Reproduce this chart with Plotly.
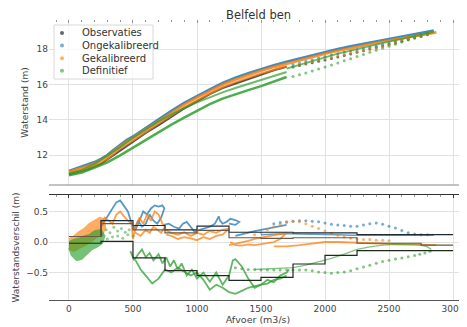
import plotly.graph_objects as go

# ------------------------------------------------------------------ data
series_names = ["Observaties", "Ongekalibreerd", "Gekalibreerd", "Definitief"]
series_colors = ["#333333", "#1f77b4", "#ff7f0e", "#2ca02c"]
legend_colors = ["rgba(51,51,51,0.75)", "rgba(31,119,180,0.6)", "rgba(255,127,14,0.6)",
                 "rgba(44,160,44,0.6)"]
step_colors = ["#1e2a36", "#6b5845", "#1c2b1c"]
chart_title = "Belfeld ben"

x_ticks = [0, 500, 1000, 1500, 2000, 2500, 3000]
x_tick_labels = ["0", "500", "1000", "1500", "2000", "2500", "3000"]
h_ticks = [12, 14, 16, 18]
h_tick_labels = ["12", "14", "16", "18"]
d_ticks = [-0.5, 0.0, 0.5]
d_tick_labels = ["\u22120.5", "0.0", "0.5"]

# ---- top panel: waterstand (m) vs afvoer (m3/s)
obs_line_q = [0, 50, 100, 150, 200, 250, 300, 350, 400, 450, 500, 600, 700, 800, 900,
              1000, 1100, 1200, 1300, 1400, 1500, 1600, 1700]
obs_line_h = [10.9, 11.0, 11.1, 11.2, 11.35, 11.5, 11.75, 12.0, 12.3, 12.55, 12.8, 13.25,
              13.7, 14.2, 14.65, 15.05, 15.45, 15.8, 16.05, 16.3, 16.55, 16.8, 17.0]
obs_dot_q = [1750, 1800, 1850, 1900, 1950, 2000, 2050, 2100, 2150, 2200, 2250, 2300, 2350,
             2400, 2450, 2500, 2550, 2600, 2650, 2700, 2750, 2800]
obs_dot_h = [16.99, 17.07, 17.15, 17.23, 17.31, 17.39, 17.47, 17.55, 17.64, 17.73, 17.82,
             17.91, 18.0, 18.09, 18.18, 18.27, 18.36, 18.45, 18.54, 18.63, 18.72, 18.82]

ong_line_q = [0, 50, 100, 150, 200, 250, 300, 350, 400, 450, 500, 600, 700, 800, 900, 1000,
              1100, 1200, 1300, 1400, 1500, 1600, 1700, 1800, 1900, 2000, 2100, 2200, 2300,
              2400, 2500, 2600, 2700, 2800, 2850]
ong_line_h = [11.1, 11.22, 11.32, 11.45, 11.6, 11.78, 12.0, 12.3, 12.6, 12.85, 13.05, 13.55,
              14.0, 14.5, 14.95, 15.35, 15.72, 16.08, 16.38, 16.63, 16.87, 17.08, 17.28, 17.47,
              17.66, 17.84, 18.0, 18.16, 18.3, 18.44, 18.57, 18.7, 18.83, 18.96, 19.05]
tail_q = [2800, 2750, 2700, 2650, 2600, 2550, 2500, 2450, 2400, 2350, 2300, 2250, 2200,
          2150, 2100, 2050, 2000, 1950, 1900, 1850, 1800, 1750]
ong_dot_h = [18.91, 18.83, 18.73, 18.64, 18.54, 18.45, 18.35, 18.26, 18.17, 18.1, 18.04,
             17.97, 17.9, 17.82, 17.74, 17.66, 17.58, 17.49, 17.4, 17.31, 17.22, 17.13]

gek_line_q = [0, 50, 100, 150, 200, 250, 300, 350, 400, 450, 500, 600, 700, 800, 900, 1000,
              1100, 1200, 1300, 1400, 1500, 1600, 1700, 1800, 1900, 2000, 2100, 2200, 2300,
              2400, 2500, 2600, 2700, 2800, 2870]
gek_line_h = [11.05, 11.15, 11.25, 11.38, 11.52, 11.7, 11.92, 12.22, 12.5, 12.75, 12.97,
              13.45, 13.92, 14.4, 14.85, 15.25, 15.62, 15.98, 16.28, 16.53, 16.77, 16.98,
              17.18, 17.37, 17.56, 17.74, 17.91, 18.07, 18.21, 18.35, 18.49, 18.62, 18.75,
              18.88, 18.95]
gek_fall_q = [1700, 1600, 1500, 1400, 1300, 1200, 1100, 1000, 900, 800, 700, 600, 500, 400,
              300, 200, 100, 0]
gek_fall_h = [17.03, 16.83, 16.62, 16.38, 16.13, 15.83, 15.47, 15.1, 14.7, 14.25, 13.77,
              13.3, 12.82, 12.35, 11.77, 11.4, 11.12, 10.95]
gek_dot_h = [18.85, 18.76, 18.65, 18.55, 18.45, 18.35, 18.25, 18.15, 18.06, 17.98, 17.92,
             17.85, 17.78, 17.7, 17.62, 17.54, 17.46, 17.38, 17.29, 17.2, 17.11, 17.03]

def_low_q = [0, 100, 200, 300, 400, 500, 600, 700, 800, 900, 1000, 1100, 1200, 1300, 1400,
             1500, 1600, 1700]
def_low_h = [10.85, 11.0, 11.28, 11.58, 11.98, 12.42, 12.88, 13.32, 13.72, 14.12, 14.52,
             14.88, 15.2, 15.45, 15.68, 15.9, 16.15, 16.42]
def_high_q = [1700, 1600, 1500, 1400, 1300, 1200, 1100, 1000, 900, 800, 700, 600, 500, 400,
              300, 200, 100, 0]
def_high_h = [16.7, 16.48, 16.25, 16.02, 15.8, 15.55, 15.28, 14.98, 14.65, 14.3, 13.9, 13.45,
              12.98, 12.45, 11.95, 11.5, 11.15, 10.95]
def_rise_q = [1700, 1800, 1900, 2000, 2100, 2200, 2300, 2400, 2500, 2600, 2700, 2800, 2850]
def_rise_h = [16.9, 17.12, 17.34, 17.55, 17.74, 17.92, 18.1, 18.27, 18.43, 18.58, 18.73,
              18.88, 18.97]
def_dot_h = [18.88, 18.76, 18.64, 18.52, 18.4, 18.28, 18.16, 18.05, 17.94, 17.82, 17.7,
             17.58, 17.46, 17.34, 17.22, 17.1, 16.98, 16.87, 16.76, 16.65, 16.55, 16.45]

# ---- bottom panel: waterstandsverschil (m) vs afvoer (m3/s)
ong_d1_q = [250, 280, 310, 340, 370, 400, 430, 460, 490, 520, 550, 580, 610, 640, 670, 700,
            730, 745, 720, 690, 660, 630, 600, 570, 540, 510]
ong_d1_d = [0.25, 0.35, 0.45, 0.55, 0.65, 0.68, 0.6, 0.5, 0.3, 0.2, 0.35, 0.5, 0.45, 0.55,
            0.6, 0.58, 0.6, 0.55, 0.4, 0.3, 0.35, 0.45, 0.3, 0.25, 0.35, 0.2]
ong_d2_q = [740, 780, 820, 860, 890, 920, 950, 980, 1020, 1060, 1100, 1140, 1170, 1180, 1200,
            1230, 1260, 1300, 1330, 1300, 1250]
ong_d2_d = [0.28, 0.3, 0.25, 0.22, 0.3, 0.33, 0.25, 0.17, 0.2, 0.22, 0.25, 0.3, 0.42, 0.35,
            0.3, 0.33, 0.38, 0.36, 0.33, 0.28, 0.3]
ong_d3_q = [1300, 1350, 1400, 1450, 1500, 1550, 1600, 1650, 1700]
ong_d3_d = [0.1, 0.13, 0.15, 0.18, 0.2, 0.22, 0.24, 0.26, 0.28]
ong_d4_q = [1500, 1600, 1700, 1800, 1900, 2000, 2100, 2200, 2300, 2400, 2500, 2600, 2700,
            2800, 2850]
ong_d4_d = [0.12, 0.13, 0.14, 0.13, 0.13, 0.12, 0.12, 0.11, 0.11, 0.11, 0.1, 0.1, 0.1, 0.1,
            0.11]
ong_ddot_q = [1600, 1650, 1700, 1750, 1800, 1850, 1900, 1950, 2000, 2050, 2100, 2150, 2200,
              2250, 2300, 2350, 2400, 2450, 2500, 2550, 2600, 2650, 2700, 2750, 2800]
ong_ddot_d = [0.3, 0.32, 0.33, 0.34, 0.35, 0.35, 0.34, 0.33, 0.31, 0.29, 0.28, 0.27, 0.26,
              0.26, 0.28, 0.3, 0.31, 0.29, 0.26, 0.23, 0.19, 0.15, 0.13, 0.12, 0.12]

# outline of the dense low-flow point cloud (Gekalibreerd)
gek_cloud_q = [0, 40, 80, 120, 160, 200, 240, 270, 285, 270, 230, 180, 130, 80, 40, 0]
gek_cloud_d = [0.05, 0.1, 0.17, 0.22, 0.3, 0.35, 0.4, 0.38, 0.25, 0.15, 0.1, 0.02, -0.05,
               -0.1, -0.15, -0.12]
gek_d2_q = [250, 280, 310, 340, 370, 400, 430, 460, 490, 500, 520, 550, 580, 610, 640, 670,
            700, 730, 750, 720, 690, 660, 630, 600, 560, 520, 500]
gek_d2_d = [0.3, 0.4, 0.35, 0.3, 0.45, 0.5, 0.42, 0.35, 0.3, 0.05, 0.25, 0.4, 0.3, 0.45,
            0.35, 0.5, 0.45, 0.3, 0.25, 0.15, 0.2, 0.25, 0.15, 0.2, 0.1, 0.15, 0.25]
gek_d3_q = [750, 800, 850, 900, 950, 1000, 1050, 1100, 1150, 1200, 1250, 1200, 1150, 1100,
            1050, 1000, 950, 900, 850, 800, 760]
gek_d3_d = [0.2, 0.15, 0.12, 0.16, 0.1, 0.15, 0.12, 0.18, 0.15, 0.2, 0.22, 0.12, 0.1, 0.05,
            0.08, 0.03, 0.06, 0.08, 0.05, 0.1, 0.12]
gek_d4_q = [1250, 1300, 1350, 1400, 1450, 1500, 1550, 1600, 1650, 1700, 1650, 1600, 1550,
            1500, 1450, 1400, 1350, 1300, 1260]
gek_d4_d = [-0.05, -0.03, 0.0, 0.02, 0.05, 0.07, 0.1, 0.12, 0.14, 0.15, 0.05, 0.0, -0.02,
            -0.03, -0.05, -0.04, -0.06, -0.05, 0.0]
gek_d5_q = [1600, 1700, 1800, 1900, 2000, 2100, 2200, 2300, 2400, 2500, 2600, 2700, 2800,
            2870]
gek_d5_d = [-0.07, -0.07, -0.05, -0.02, 0.0, 0.0, -0.01, -0.02, -0.03, -0.03, -0.04, -0.04,
            -0.04, -0.05]
gek_ddot_q = [1450, 1500, 1550, 1600, 1650, 1700, 1750, 1800, 1850, 1900, 1950, 2000, 2050,
              2100, 2150, 2200, 2250, 2300, 2350, 2400, 2450, 2500]
gek_ddot_d = [0.12, 0.15, 0.2, 0.25, 0.29, 0.32, 0.34, 0.33, 0.3, 0.26, 0.22, 0.18, 0.14,
              0.11, 0.08, 0.06, 0.05, 0.04, 0.04, 0.03, 0.03, 0.02]

# outline of the dense low-flow point cloud (Definitief)
def_cloud_q = [0, 40, 80, 120, 160, 200, 250, 280, 260, 220, 180, 140, 100, 60, 20, 0]
def_cloud_d = [0.0, 0.04, 0.06, 0.1, 0.12, 0.18, 0.2, 0.1, -0.02, -0.08, -0.12, -0.2, -0.28,
               -0.3, -0.22, -0.1]
def_sparse_q = [260, 290, 320, 350, 380, 410, 440, 470, 300, 340, 380, 420, 460, 500]
def_sparse_d = [0.12, 0.2, 0.15, 0.24, 0.18, 0.22, 0.16, 0.2, 0.05, 0.08, 0.1, 0.06, 0.12,
                0.1]
def_d2_q = [480, 510, 540, 570, 600, 630, 660, 700, 730, 760, 790, 820, 850, 880, 920, 960,
            1000, 1050, 1100, 1150, 1200, 1250, 1280, 1300, 1350, 1400, 1450, 1500, 1550,
            1600, 1650, 1700, 1720]
def_d2_d = [-0.15, -0.3, -0.2, -0.12, -0.25, -0.18, -0.3, -0.2, -0.35, -0.25, -0.4, -0.3,
            -0.45, -0.35, -0.55, -0.45, -0.6, -0.5, -0.65, -0.5, -0.7, -0.55, -0.3, -0.28,
            -0.4, -0.6, -0.75, -0.7, -0.62, -0.66, -0.55, -0.5, -0.45]
def_d3_q = [1700, 1650, 1600, 1550, 1500, 1450, 1400, 1350, 1300, 1250, 1200, 1150, 1100,
            1050, 1000, 950, 900, 850, 800, 750, 700, 650, 600, 560, 520]
def_d3_d = [-0.55, -0.6, -0.62, -0.68, -0.7, -0.72, -0.75, -0.8, -0.85, -0.82, -0.75, -0.7,
            -0.78, -0.62, -0.5, -0.55, -0.48, -0.42, -0.5, -0.45, -0.6, -0.68, -0.55, -0.45,
            -0.3]
def_d4_q = [1450, 1550, 1650, 1750, 1850, 1950, 2050, 2150, 2250, 2350, 2450, 2550, 2650,
            2750, 2800, 2830]
def_d4_d = [-0.45, -0.44, -0.43, -0.42, -0.38, -0.33, -0.27, -0.2, -0.12, -0.08, -0.05,
            -0.04, -0.04, -0.05, -0.08, -0.12]
def_ddot_q = [2820, 2780, 2740, 2700, 2650, 2600, 2550, 2500, 2450, 2400, 2350, 2300, 2250,
              2200, 2150, 2100, 2050, 2000, 1950, 1900, 1850, 1800, 1750, 1700, 1650, 1600,
              1550, 1500, 1450, 1400, 1350, 1300]
def_ddot_d = [-0.15, -0.18, -0.2, -0.22, -0.24, -0.26, -0.28, -0.3, -0.32, -0.35, -0.38,
              -0.41, -0.44, -0.47, -0.49, -0.5, -0.51, -0.5, -0.49, -0.47, -0.46, -0.46,
              -0.46, -0.46, -0.46, -0.46, -0.46, -0.46, -0.45, -0.45, -0.44, -0.42]

# binned mean differences (steps of 250 m3/s)
step_edges = [0, 250, 500, 750, 1000, 1250, 1500, 1750, 2000, 2250, 2500, 2750, 3000]
ong_step = [0.09, 0.35, 0.27, 0.20, 0.26, 0.16, 0.16, 0.15, 0.15, 0.12, 0.12, 0.12]
gek_step = [0.09, 0.30, 0.20, 0.15, 0.19, 0.07, 0.06, 0.07, 0.07, -0.02, -0.02, -0.05]
def_step = [-0.02, 0.01, -0.26, -0.47, -0.55, -0.63, -0.58, -0.36, -0.22, -0.14, -0.14, -0.14]

# ------------------------------------------------------------------ figure geometry
FONT = "DejaVu Sans"
OFF = 8                      # page body margin of the html page
WIN_W, WIN_H = 467, 327
W, H = WIN_W - OFF, WIN_H - OFF
PLOT_L, PLOT_R, PLOT_T, PLOT_B = 49, 467, 20, 300      # window pixels
ML, MR, MT, MB = PLOT_L - OFF, WIN_W - PLOT_R, PLOT_T - OFF, WIN_H - PLOT_B
PW, PH = W - ML - MR, H - MT - MB

fig = go.Figure()


def add_line(x, y, color, xa, ya, width=2.5, opacity=0.85):
    fig.add_trace(go.Scatter(x=x, y=y, mode="lines", xaxis=xa, yaxis=ya,
                             line=dict(color=color, width=width), opacity=opacity,
                             showlegend=False, hoverinfo="skip"))


def add_dots(x, y, color, xa, ya, size=3, opacity=0.6):
    fig.add_trace(go.Scatter(x=x, y=y, mode="markers", xaxis=xa, yaxis=ya,
                             marker=dict(color=color, size=size, line=dict(width=0)),
                             opacity=opacity, showlegend=False, hoverinfo="skip"))


def add_cloud(x, y, color, xa, ya, opacity=0.65):
    fig.add_trace(go.Scatter(x=x, y=y, mode="lines", fill="toself", fillcolor=color,
                             xaxis=xa, yaxis=ya, line=dict(color=color, width=1.5),
                             opacity=opacity, showlegend=False, hoverinfo="skip"))


c_obs, c_ong, c_gek, c_def = series_colors

# top panel
add_line(obs_line_q, obs_line_h, c_obs, "x", "y", width=2.2)
add_dots(obs_dot_q, obs_dot_h, c_obs, "x", "y", opacity=0.7)
add_line(ong_line_q, ong_line_h, c_ong, "x", "y", width=2.6)
add_dots(tail_q, ong_dot_h, c_ong, "x", "y")
add_line(gek_line_q, gek_line_h, c_gek, "x", "y", width=2.6)
add_line(gek_fall_q, gek_fall_h, c_gek, "x", "y", width=2.0, opacity=0.7)
add_dots(tail_q, gek_dot_h, c_gek, "x", "y")
add_line(def_low_q, def_low_h, c_def, "x", "y", width=2.4)
add_line(def_high_q, def_high_h, c_def, "x", "y", width=2.0, opacity=0.7)
add_line(def_rise_q, def_rise_h, c_def, "x", "y", width=1.8, opacity=0.7)
add_dots(tail_q, def_dot_h, c_def, "x", "y")

# bottom panel
for q, d in [(ong_d1_q, ong_d1_d), (ong_d2_q, ong_d2_d), (ong_d3_q, ong_d3_d)]:
    add_line(q, d, c_ong, "x2", "y2", width=1.8, opacity=0.75)
add_line(ong_d4_q, ong_d4_d, c_ong, "x2", "y2", width=1.6, opacity=0.7)
add_dots(ong_ddot_q, ong_ddot_d, c_ong, "x2", "y2")
add_cloud(gek_cloud_q, gek_cloud_d, c_gek, "x2", "y2")
for q, d in [(gek_d2_q, gek_d2_d), (gek_d3_q, gek_d3_d),
             (gek_d4_q, gek_d4_d), (gek_d5_q, gek_d5_d)]:
    add_line(q, d, c_gek, "x2", "y2", width=1.8, opacity=0.75)
add_dots(gek_ddot_q, gek_ddot_d, c_gek, "x2", "y2")
add_cloud(def_cloud_q, def_cloud_d, c_def, "x2", "y2", opacity=0.65)
add_dots(def_sparse_q, def_sparse_d, c_def, "x2", "y2", opacity=0.5)
for q, d in [(def_d2_q, def_d2_d), (def_d3_q, def_d3_d)]:
    add_line(q, d, c_def, "x2", "y2", width=1.8, opacity=0.75)
add_line(def_d4_q, def_d4_d, c_def, "x2", "y2", width=1.3, opacity=0.6)
add_dots(def_ddot_q, def_ddot_d, c_def, "x2", "y2")

for vals, col in [(ong_step, step_colors[0]), (gek_step, step_colors[1]),
                  (def_step, step_colors[2])]:
    fig.add_trace(go.Scatter(x=step_edges, y=vals + vals[-1:], mode="lines",
                             line=dict(color=col, width=1.2, shape="hv"),
                             xaxis="x3", yaxis="y2", showlegend=False, hoverinfo="skip"))


# ------------------------------------------------------------------ legend (drawn box)
def px_x(p):
    """window pixel x -> paper fraction"""
    return (p - PLOT_L) / PW


def px_y(p):
    """window pixel y -> paper fraction"""
    return (PLOT_B - p) / PH


shapes = [dict(type="line", xref="paper", yref="paper", x0=0, x1=1,
               y0=px_y(185), y1=px_y(185), line=dict(color="#888", width=1.2)),
          dict(type="rect", xref="paper", yref="paper", x0=px_x(54), x1=px_x(153),
               y0=px_y(79), y1=px_y(25), line=dict(color="#d8d8d8", width=1),
               fillcolor="rgba(255,255,255,0.8)", layer="above")]
annotations = [dict(text=chart_title, xref="paper", yref="paper", x=0.5, y=px_y(15),
                    xanchor="center", yanchor="middle", showarrow=False,
                    font=dict(family=FONT, size=11.5, color="#333"))]
for i, (name, col) in enumerate(zip(series_names, legend_colors)):
    yc = 33 + i * 12.6
    r = 2.0
    shapes.append(dict(type="circle", xref="paper", yref="paper",
                       x0=px_x(62 - r), x1=px_x(62 + r), y0=px_y(yc + r), y1=px_y(yc - r),
                       fillcolor=col, line=dict(width=0), layer="above"))
    annotations.append(dict(text=name, xref="paper", yref="paper", x=px_x(80), y=px_y(yc),
                            xanchor="left", yanchor="middle", showarrow=False,
                            font=dict(family=FONT, size=10, color="#333")))

# ------------------------------------------------------------------ layout
X_RANGE = [-156, 3109]
TOP0 = px_y(185)
BOT1 = px_y(195)
grid = "#e2e2e2"
tickfont = dict(family=FONT, size=9, color="#444")
minor = dict(tickmode="linear", tick0=0, dtick=100, ticks="inside", ticklen=2,
             tickcolor="#999", showgrid=False)

fig.update_layout(
    width=W, height=H,
    margin=dict(l=ML, r=MR, t=MT, b=MB, autoexpand=False),
    paper_bgcolor="white", plot_bgcolor="white",
    font=dict(family=FONT, size=9, color="#444"),
    showlegend=False,
    xaxis=dict(domain=[0, 1], anchor="y", range=X_RANGE, side="top", automargin=False,
               tickvals=x_ticks, ticktext=x_tick_labels, showticklabels=False,
               ticks="inside", ticklen=3, tickcolor="#999", minor=minor,
               showgrid=True, gridcolor=grid, gridwidth=1, showline=False, zeroline=False),
    yaxis=dict(domain=[TOP0, 1], anchor="x", range=[10.3, 19.65], automargin=False,
               tickvals=h_ticks, ticktext=h_tick_labels, ticks="", tickfont=tickfont,
               showgrid=True, gridcolor=grid, zeroline=False, showline=False,
               title=dict(text="Waterstand (m)", font=dict(family=FONT, size=9, color="#444"),
                          standoff=6)),
    xaxis2=dict(domain=[0, 1], anchor="y2", range=X_RANGE, automargin=False,
                tickvals=x_ticks, ticktext=x_tick_labels, ticks="", tickfont=tickfont,
                showgrid=True, gridcolor=grid, zeroline=False,
                showline=True, linecolor="#555", linewidth=1,
                title=dict(text="Afvoer (m3/s)", font=dict(family=FONT, size=9.5, color="#444"),
                           standoff=0)),
    xaxis3=dict(overlaying="x2", anchor="y2", side="top", range=X_RANGE, automargin=False,
                tickvals=x_ticks, showticklabels=False, ticks="inside", ticklen=3,
                tickcolor="#333", minor=minor, showgrid=False, zeroline=False,
                showline=True, linecolor="#333", linewidth=1.2),
    yaxis2=dict(domain=[0, BOT1], anchor="x2", range=[-0.95, 0.77], automargin=False,
                tickvals=d_ticks, ticktext=d_tick_labels, ticks="", tickfont=tickfont,
                showgrid=True, gridcolor=grid, zeroline=False, showline=False,
                title=dict(text="Waterstandsverschil (m)",
                           font=dict(family=FONT, size=9, color="#444"), standoff=4)),
    shapes=shapes,
    annotations=annotations,
)

fig.write_html("out.html")
